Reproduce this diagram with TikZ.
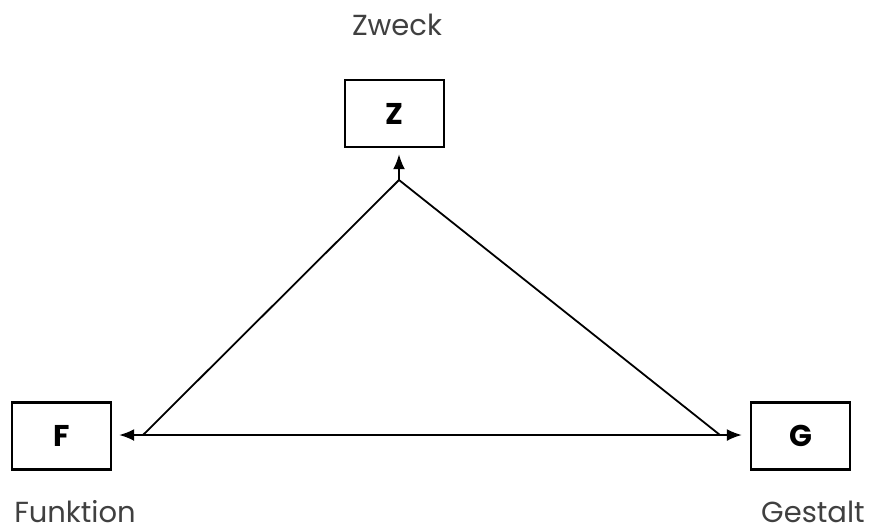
\documentclass[tikz,border=0pt]{standalone}
\usepackage{fontspec}
\setmainfont{Poppins}
\usetikzlibrary{positioning,calc,arrows.meta}

\tikzset{
    termbox/.style={draw, line width=2.4pt, minimum width=99pt, minimum height=67pt, font=\bfseries\fontsize{30}{33}\selectfont},
    termlabel/.style={anchor=base, inner sep=0pt, text=black!75, font=\fontsize{29}{32}\selectfont},
    link/.style={line width=1.8pt},
    tip/.style={-{Latex[length=15pt,width=12pt]}}
}

\begin{document}
\begin{tikzpicture}[x=1pt,y=-1pt]
    \useasboundingbox (0,0) rectangle (874,531);

    % Boxes
    \node[termbox] (Z) at (394.5,113.5) {Z};
    \node[termbox] (F) at (61.5,436) {F};
    \node[termbox] (G) at (800.5,436) {G};

    % Labels
    \node[termlabel] (zweck) at (397,35) {Zweck};
    \node[termlabel] (funktion) at (75,522) {Funktion};
    \node[termlabel] (gestalt) at (813,522) {Gestalt};

    % Triangle
    \coordinate (apex) at (399,180);
    \coordinate (left) at (143,435);
    \coordinate (right) at (720,435);
    \draw[link] (left) -- (apex) -- (right);
    \draw[link, tip] (apex) -- ($(Z.south)+(4.5,6)$);
    \draw[link, tip] (left) -- ($(F.east)+(7,-1)$);
    \draw[link, tip] (left) -- ($(G.west)+(-8,-1)$);
\end{tikzpicture}
\end{document}
